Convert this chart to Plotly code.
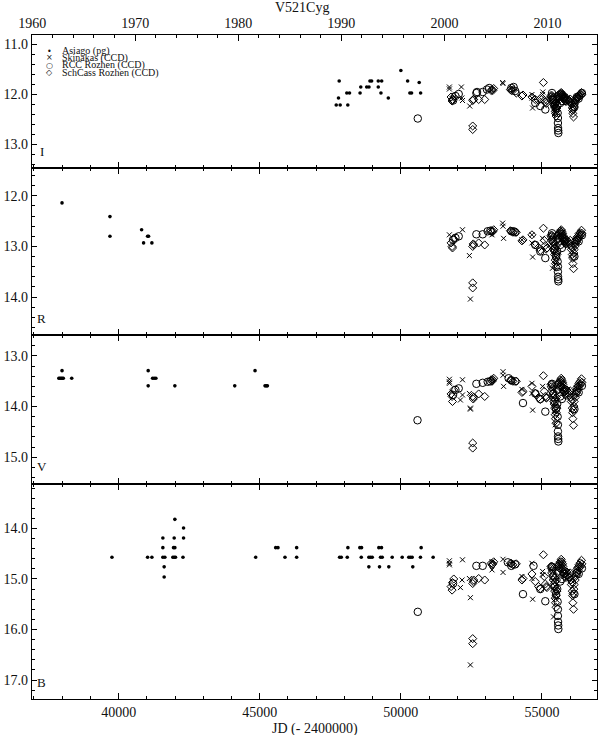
import plotly.graph_objects as go

# ---------------- data (JD - 2400000, magnitude) ----------------
bands = ["I", "R", "V", "B"]

# Asiago (photographic)
asiago_I_jd = [47710, 47790, 47815, 47850, 48085, 48120, 48180, 48555, 48580, 48790, 48870, 48905,
               48965, 49200, 49200, 49295, 49320, 49555, 50000, 50240, 50320, 50380, 50650, 50700]
asiago_I_mag = [12.21, 12.07, 11.73, 12.21, 11.97, 12.21, 11.97, 11.97, 11.85, 11.85, 11.85, 11.73,
                11.73, 11.73, 11.85, 11.97, 11.73, 12.07, 11.52, 11.73, 11.97, 11.97, 11.76, 11.97]
asiago_R_jd = [37994, 39692, 39692, 40814, 40884, 41026, 41061, 41178]
asiago_R_mag = [12.14, 12.41, 12.80, 12.67, 12.93, 12.80, 12.80, 12.93]
asiago_V_jd = [37994, 37880, 37920, 37960, 38000, 38040, 38337, 41047, 41047, 41203, 41260, 41320,
               41992, 44114, 44833, 45187, 45230, 45271]
asiago_V_mag = [13.29, 13.44, 13.44, 13.44, 13.44, 13.44, 13.44, 13.29, 13.59, 13.44, 13.44, 13.44,
                13.59, 13.59, 13.29, 13.59, 13.59, 13.59]
asiago_B_jd = [39763, 41026, 41178, 41567, 41567, 41567, 41638, 41613, 41613, 41992, 41968, 41945,
               41992, 41920, 41968, 42015, 42300, 42300, 42280, 44857, 45565, 45646, 45894, 46308,
               46308, 47829, 47889, 48123, 48101, 48547, 48607, 48597, 48866, 48866, 48926, 48986,
               49220, 49314, 49280, 49340, 49244, 49573, 49693, 50047, 50281, 50341, 50401, 50422,
               50719, 50694, 51144]
asiago_B_mag = [14.57, 14.57, 14.57, 14.19, 14.38, 14.57, 14.57, 14.76, 14.96, 13.82, 14.19, 14.38,
                14.38, 14.57, 14.57, 14.57, 13.99, 14.19, 14.57, 14.57, 14.38, 14.38, 14.57, 14.38,
                14.57, 14.57, 14.57, 14.38, 14.57, 14.38, 14.38, 14.57, 14.76, 14.57, 14.57, 14.57,
                14.38, 14.38, 14.57, 14.57, 14.76, 14.76, 14.57, 14.57, 14.57, 14.57, 14.57, 14.76,
                14.38, 14.57, 14.57]

# Skinakas (CCD)
skinakas_I_jd = [51720, 51720, 52145, 52160, 52184, 52440, 53230, 53606, 53620, 53914, 54645, 54645,
                 54667, 55022, 55030, 55420, 55470]
skinakas_I_mag = [11.85, 11.89, 11.85, 12.07, 12.12, 12.23, 11.90, 11.76, 11.78, 11.87, 12.00, 12.07,
                  12.27, 12.00, 11.95, 12.20, 12.35]
skinakas_R_jd = [51720, 52184, 52428, 52464, 53230, 53606, 53620, 53640, 54291, 54645, 54645, 54670,
                 55022, 55375, 55480]
skinakas_R_mag = [12.77, 12.67, 13.18, 14.04, 12.77, 12.54, 12.60, 12.84, 12.87, 12.77, 12.93, 13.21,
                  12.84, 13.43, 13.30]
skinakas_V_jd = [51720, 51720, 51720, 52110, 52184, 52184, 52428, 52464, 52464, 53230, 53620, 53620,
                 53640, 54291, 54645, 54645, 54670, 55022, 55470, 55440]
skinakas_V_mag = [13.46, 13.51, 13.54, 13.87, 13.47, 13.77, 13.74, 14.05, 14.03, 13.47, 13.31, 13.38,
                  13.60, 13.66, 13.54, 13.74, 14.07, 13.60, 14.36, 14.10]
skinakas_B_jd = [51720, 51720, 51720, 52110, 52169, 52184, 52428, 52464, 52464, 53230, 53230, 53620,
                 53620, 54291, 54645, 54645, 54670, 55022, 55030, 55410, 55460]
skinakas_B_mag = [14.64, 14.69, 14.72, 15.17, 15.02, 14.62, 14.99, 15.37, 16.70, 14.66, 14.82, 14.61,
                  14.87, 14.95, 14.69, 14.99, 15.40, 14.85, 14.92, 15.75, 15.35]

# RCC Rozhen (CCD)
rcc_I_jd = [50600, 51850, 51933, 52050, 52676, 52700, 52900, 53050, 53130, 53914, 53995, 54050,
            54763, 54940, 55118]
rcc_I_mag = [12.48, 12.12, 12.03, 11.99, 11.97, 11.95, 11.95, 11.90, 11.87, 11.87, 11.85, 11.93,
             12.17, 12.23, 12.30]
rcc_R_jd = [51850, 51933, 52050, 52676, 52900, 53077, 53171, 53914, 53995, 54050, 54763, 54940, 55118]
rcc_R_mag = [12.87, 12.83, 12.80, 12.76, 12.76, 12.70, 12.69, 12.70, 12.70, 12.72, 12.97, 13.10, 13.23]
rcc_V_jd = [50590, 51850, 51933, 52050, 52676, 52900, 53077, 53171, 53818, 53914, 54050, 54327,
            54763, 54940, 55118]
rcc_V_mag = [14.27, 13.77, 13.67, 13.64, 13.55, 13.53, 13.51, 13.50, 13.44, 13.48, 13.50, 13.93,
             13.74, 13.85, 14.10]
rcc_B_jd = [50600, 51850, 52676, 52900, 53790, 53914, 54050, 54327, 54700, 54940, 55118]
rcc_B_mag = [15.65, 15.09, 14.74, 14.74, 14.67, 14.74, 14.71, 15.30, 14.74, 15.20, 15.44]

rcc_dense_jd = [55355, 55400, 55450, 55500, 55540, 55555, 55565, 55565, 55570, 55575, 55580, 55647,
                55706, 55800, 56150, 56238, 56300, 56415]
rcc_dense_I = [11.97, 12.10, 12.20, 12.28, 12.22, 12.37, 12.47, 12.57, 12.67, 12.72, 12.77, 12.17,
               12.13, 12.05, 12.25, 12.05, 12.08, 11.97]
rcc_dense_R = [12.74, 12.90, 13.05, 13.20, 13.10, 13.30, 13.40, 13.50, 13.60, 13.65, 13.69, 12.97,
               13.03, 12.90, 13.20, 12.88, 12.90, 12.78]
rcc_dense_V = [13.55, 13.75, 13.90, 14.05, 13.95, 14.20, 14.36, 14.49, 14.59, 14.64, 14.69, 13.80,
               13.85, 13.70, 14.05, 13.70, 13.72, 13.59]
rcc_dense_B = [14.76, 14.95, 15.15, 15.30, 15.20, 15.45, 15.60, 15.73, 15.85, 15.92, 15.99, 15.05,
               15.00, 14.90, 15.30, 14.88, 14.90, 14.79]

# SchCass Rozhen (CCD)
schcass_jd = [51780, 51815, 51830, 51874, 52546, 52546, 52546, 52565, 52580, 52758, 52971, 53200,
              53230, 53260, 53289, 53880, 53914, 53973, 54090, 54291, 54327, 54645, 54763, 54880,
              54940, 55050, 55080, 55118, 55150, 55177]
schcass_I_mag = [12.05, 12.13, 12.10, 12.05, 12.63, 12.70, 12.12, 12.10, 12.10, 12.10, 12.10, 11.92,
                 11.90, 11.92, 11.88, 11.90, 11.92, 11.92, 11.97, 12.03, 12.01, 12.05, 12.10, 12.12,
                 12.08, 11.76, 12.12, 12.15, 12.18, 12.12]
schcass_R_mag = [12.93, 13.00, 13.03, 12.85, 13.72, 13.82, 13.00, 12.95, 12.97, 12.93, 12.97, 12.69,
                 12.72, 12.70, 12.67, 12.69, 12.70, 12.72, 12.72, 12.89, 12.87, 12.77, 12.97, 13.02,
                 13.08, 12.64, 12.88, 12.98, 13.05, 13.03]
schcass_V_mag = [13.75, 13.80, 13.90, 13.67, 14.72, 14.82, 13.80, 13.85, 13.82, 13.75, 13.80, 13.47,
                 13.50, 13.47, 13.44, 13.48, 13.48, 13.50, 13.50, 13.72, 13.70, 13.60, 13.74, 13.82,
                 13.86, 13.39, 13.70, 13.80, 13.83, 13.82]
schcass_B_mag = [15.15, 15.22, 15.07, 15.00, 16.18, 16.28, 15.09, 15.05, 15.02, 14.99, 15.02, 14.69,
                 14.72, 14.70, 14.66, 14.69, 14.69, 14.72, 14.70, 15.02, 14.99, 14.90, 15.05, 15.15,
                 15.19, 14.52, 14.95, 15.10, 15.15, 15.17]

schcass_dense_jd = [55319, 55330, 55345, 55355, 55370, 55390, 55400, 55410, 55420, 55433, 55440, 55450,
                    55460, 55470, 55480, 55490, 55500, 55505, 55515, 55530, 55540, 55560, 55580, 55600,
                    55620, 55647, 55660, 55670, 55682, 55695, 55706, 55720, 55730, 55741, 55755, 55765,
                    55780, 55800, 55815, 55835, 55850, 55870, 55883, 55953, 55976, 56000, 56024, 56040,
                    56061, 56075, 56085, 56095, 56105, 56118, 56130, 56142, 56160, 56178, 56195, 56214,
                    56238, 56255, 56273, 56290, 56308, 56330, 56355, 56380, 56400, 56415]
schcass_dense_I = [12.02, 12.05, 12.09, 12.02, 12.07, 12.11, 12.16, 12.05, 12.20, 12.23, 12.14, 12.27,
                   12.18, 12.34, 12.38, 12.25, 12.43, 12.32, 12.16, 12.27, 12.09, 12.02, 12.07, 12.00,
                   12.05, 11.98, 12.00, 12.04, 11.96, 12.01, 11.98, 12.05, 12.00, 12.02, 12.08, 12.05,
                   12.10, 12.07, 12.13, 12.09, 12.14, 12.11, 12.08, 12.11, 12.14, 12.09, 12.16, 12.20,
                   12.18, 12.27, 12.32, 12.38, 12.29, 12.45, 12.25, 12.20, 12.14, 12.16, 12.09, 12.11,
                   12.05, 12.08, 12.04, 12.06, 12.01, 12.04, 11.99, 12.02, 11.96, 12.00]
schcass_dense_R = [12.78, 12.81, 12.88, 12.78, 12.85, 12.92, 12.99, 12.81, 13.06, 13.09, 12.95, 13.16,
                   13.02, 13.27, 13.34, 13.13, 13.41, 13.23, 12.99, 13.16, 12.88, 12.78, 12.85, 12.74,
                   12.81, 12.70, 12.74, 12.80, 12.67, 12.75, 12.70, 12.81, 12.74, 12.78, 12.87, 12.82,
                   12.89, 12.85, 12.94, 12.88, 12.95, 12.92, 12.87, 12.92, 12.95, 12.88, 12.99, 13.06,
                   13.02, 13.16, 13.23, 13.34, 13.20, 13.44, 13.13, 13.06, 12.95, 12.99, 12.88, 12.92,
                   12.82, 12.87, 12.80, 12.84, 12.75, 12.80, 12.73, 12.78, 12.68, 12.74]
schcass_dense_V = [13.56, 13.61, 13.69, 13.56, 13.65, 13.73, 13.82, 13.61, 13.90, 13.95, 13.78, 14.03,
                   13.86, 14.16, 14.24, 13.99, 14.33, 14.12, 13.82, 14.03, 13.69, 13.56, 13.65, 13.52,
                   13.61, 13.48, 13.52, 13.59, 13.44, 13.54, 13.48, 13.61, 13.52, 13.56, 13.67, 13.62,
                   13.71, 13.65, 13.76, 13.69, 13.78, 13.73, 13.67, 13.73, 13.78, 13.69, 13.82, 13.90,
                   13.86, 14.03, 14.12, 14.24, 14.07, 14.37, 13.99, 13.90, 13.78, 13.82, 13.69, 13.73,
                   13.62, 13.67, 13.59, 13.64, 13.54, 13.59, 13.50, 13.56, 13.45, 13.52]
schcass_dense_B = [14.75, 14.79, 14.88, 14.75, 14.84, 14.93, 15.02, 14.79, 15.11, 15.15, 14.97, 15.24,
                   15.06, 15.38, 15.47, 15.20, 15.56, 15.33, 15.02, 15.24, 14.88, 14.75, 14.84, 14.70,
                   14.79, 14.66, 14.70, 14.77, 14.61, 14.72, 14.66, 14.79, 14.70, 14.75, 14.86, 14.81,
                   14.90, 14.84, 14.95, 14.88, 14.97, 14.93, 14.86, 14.93, 14.97, 14.88, 15.02, 15.11,
                   15.06, 15.24, 15.33, 15.47, 15.29, 15.60, 15.20, 15.11, 14.97, 15.02, 14.88, 14.93,
                   14.81, 14.86, 14.77, 14.83, 14.72, 14.77, 14.68, 14.75, 14.63, 14.70]

legend_labels = ["Asiago (pg)", "Skinakas (CCD)", "RCC Rozhen (CCD)", "SchCass Rozhen (CCD)"]
year_labels = [1960, 1970, 1980, 1990, 2000, 2010]
year_minor = list(range(1960, 2014, 2))

# ---------------- layout constants ----------------
JD_RANGE = [36930, 56950]
Y_RANGES = {"I": [13.47, 10.81], "R": [14.75, 11.45], "V": [15.53, 12.585], "B": [17.375, 13.12]}
DOMAINS = {"I": [0.7997, 1.0], "R": [0.5482, 0.7997], "V": [0.3238, 0.5482], "B": [0.0, 0.3238]}
FONT = "Liberation Serif"
INK = "#111111"

series = {
    "I": [(asiago_I_jd, asiago_I_mag), (skinakas_I_jd, skinakas_I_mag),
          (rcc_I_jd + rcc_dense_jd, rcc_I_mag + rcc_dense_I),
          (schcass_jd + schcass_dense_jd, schcass_I_mag + schcass_dense_I)],
    "R": [(asiago_R_jd, asiago_R_mag), (skinakas_R_jd, skinakas_R_mag),
          (rcc_R_jd + rcc_dense_jd, rcc_R_mag + rcc_dense_R),
          (schcass_jd + schcass_dense_jd, schcass_R_mag + schcass_dense_R)],
    "V": [(asiago_V_jd, asiago_V_mag), (skinakas_V_jd, skinakas_V_mag),
          (rcc_V_jd + rcc_dense_jd, rcc_V_mag + rcc_dense_V),
          (schcass_jd + schcass_dense_jd, schcass_V_mag + schcass_dense_V)],
    "B": [(asiago_B_jd, asiago_B_mag), (skinakas_B_jd, skinakas_B_mag),
          (rcc_B_jd + rcc_dense_jd, rcc_B_mag + rcc_dense_B),
          (schcass_jd + schcass_dense_jd, schcass_B_mag + schcass_dense_B)],
}

styles = [
    dict(symbol="circle", size=3.6, color="black", line=dict(width=0)),
    dict(symbol="x-thin-open", size=5, color="black", line=dict(width=1, color="black")),
    dict(symbol="circle-open", size=7.5, color="black", line=dict(width=1, color="black")),
    dict(symbol="diamond-open", size=6.2, color="black", line=dict(width=1, color="black")),
]

fig = go.Figure()
for i, b in enumerate(bands, start=1):
    xa = "x" if i == 1 else f"x{i}"
    ya = "y" if i == 1 else f"y{i}"
    for (jd, mag), st, name in zip(series[b], styles, legend_labels):
        fig.add_trace(go.Scatter(x=jd, y=mag, mode="markers", marker=st, name=name,
                                 xaxis=xa, yaxis=ya, showlegend=False, hoverinfo="x+y"))

# empty trace to activate the top calendar axis
fig.add_trace(go.Scatter(x=[], y=[], xaxis="x5", yaxis="y", showlegend=False))

layout = dict(
    width=600, height=735, template="none",
    margin=dict(l=32, r=3, t=35, b=36, pad=0),
    paper_bgcolor="white", plot_bgcolor="white",
    showlegend=False,
    font=dict(family=FONT, size=14, color=INK),
)

for i, b in enumerate(bands, start=1):
    xkey = "xaxis" if i == 1 else f"xaxis{i}"
    ykey = "yaxis" if i == 1 else f"yaxis{i}"
    layout[xkey] = dict(
        domain=[0, 1], range=JD_RANGE, anchor=("y" if i == 1 else f"y{i}"),
        showline=True, linecolor="black", linewidth=1.2,
        mirror=(False if i == 1 else "ticks"),
        ticks="inside", ticklen=6, tickwidth=1, tickcolor="black",
        tick0=0, dtick=5000, tickformat="d",
        minor=dict(dtick=1000, ticks="inside", ticklen=3, tickwidth=1, tickcolor="black"),
        showgrid=False, zeroline=False, automargin=False,
        showticklabels=(b == "B"), tickfont=dict(family=FONT, size=14, color=INK),
    )
    if i > 1:
        layout[xkey]["matches"] = "x"
    layout[ykey] = dict(
        domain=DOMAINS[b], range=Y_RANGES[b], anchor=("x" if i == 1 else f"x{i}"),
        showline=True, linecolor="black", linewidth=1.2, mirror="ticks",
        ticks="inside", ticklen=5, tickwidth=1, tickcolor="black",
        tick0=0, dtick=1, tickformat=".1f",
        minor=dict(dtick=0.2, ticks="inside", ticklen=2.5, tickwidth=1, tickcolor="black"),
        showgrid=False, zeroline=False, automargin=False,
        tickfont=dict(family=FONT, size=14, color=INK),
    )

year_jd = [51544.5 + (y - 2000) * 365.25 for y in year_labels]
year_minor_jd = [51544.5 + (y - 2000) * 365.25 for y in year_minor]
layout["xaxis5"] = dict(
    overlaying="x", side="top", anchor="y", range=JD_RANGE,
    tickmode="array", tickvals=year_jd, ticktext=[str(y) for y in year_labels],
    showline=True, linecolor="black", linewidth=1.2,
    ticks="inside", ticklen=6, tickwidth=1, tickcolor="black",
    minor=dict(tickmode="array", tickvals=year_minor_jd, ticks="inside", ticklen=3,
               tickwidth=1, tickcolor="black"),
    showgrid=False, zeroline=False, automargin=False,
    tickfont=dict(family=FONT, size=14, color=INK),
)

annotations = [
    dict(text="V521Cyg", x=0.478, y=1.042, xref="paper", yref="paper", showarrow=False,
         xanchor="center", yanchor="middle", font=dict(family=FONT, size=14, color=INK)),
    dict(text="JD (- 2400000)", x=0.5, y=-0.0452, xref="paper", yref="paper", showarrow=False,
         xanchor="center", yanchor="middle", font=dict(family=FONT, size=14, color=INK)),
]
panel_label_pos = {"I": 0.8238, "R": 0.5723, "V": 0.3498, "B": 0.0241}
for b in bands:
    annotations.append(dict(text=b, x=0.0175, y=panel_label_pos[b], xref="paper", yref="paper",
                            showarrow=False, xanchor="center", yanchor="middle",
                            font=dict(family=FONT, size=13, color=INK)))

legend_symbols = ["\u2022", "\u00d7", "\u25cb", "\u25c7"]
legend_rows = [0.9759, 0.9654, 0.9541, 0.9428]
for sym, lab, yy in zip(legend_symbols, legend_labels, legend_rows):
    annotations.append(dict(text=sym, x=0.0301, y=yy, xref="paper", yref="paper", showarrow=False,
                            xanchor="center", yanchor="middle",
                            font=dict(family="DejaVu Sans", size=8, color=INK)))
    annotations.append(dict(text=lab, x=0.0496, y=yy, xref="paper", yref="paper", showarrow=False,
                            xanchor="left", yanchor="middle",
                            font=dict(family=FONT, size=10, color=INK)))
layout["annotations"] = annotations

fig.update_layout(**layout)
fig.write_html("out.html", config={"displayModeBar": False},
               post_script="document.body.style.margin='0';document.body.style.padding='0';")
